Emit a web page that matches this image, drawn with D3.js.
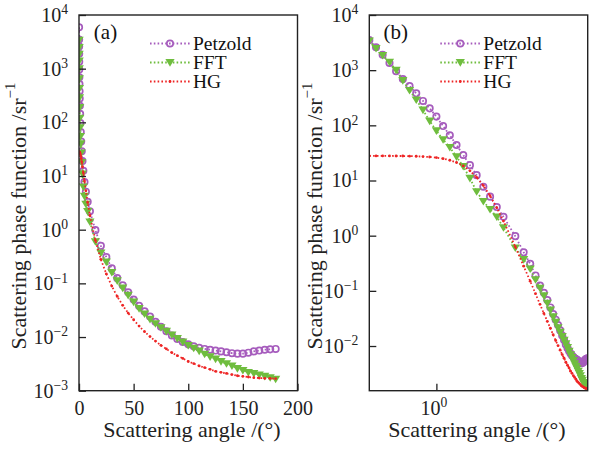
<!DOCTYPE html>
<html>
<head>
<meta charset="utf-8">
<script src="https://cdn.jsdelivr.net/npm/d3@7"></script>
<style>
  body { margin: 0; background: #fff; }
  svg { display: block; }
</style>
</head>
<body>
<div id="chart"></div>
<script>
// scattering angles (deg) shared by FFT and HG, Petzold has one extra point near 0
const angles = [0.1, 0.126, 0.158, 0.2, 0.251, 0.316, 0.398, 0.501, 0.631, 0.794,
  1, 1.259, 1.585, 1.995, 2.512, 3.162, 3.981, 5.012, 6.31, 7.943, 10,
  15, 20, 25, 30, 35, 40, 45, 50, 55, 60, 65, 70, 75, 80, 85, 90,
  95, 100, 105, 110, 115, 120, 125, 130, 135, 140, 145, 150, 155, 160, 165, 170, 175, 180];
const petzoldAngles = [0.063, 0.1, 0.126, 0.158, 0.2, 0.251, 0.316, 0.398, 0.501, 0.631, 0.794,
  1, 1.259, 1.585, 1.995, 2.512, 3.162, 3.981, 5.012, 6.31, 7.943, 10,
  15, 20, 25, 30, 35, 40, 45, 50, 55, 60, 65, 70, 75, 80, 85, 90,
  95, 100, 105, 110, 115, 120, 125, 130, 135, 140, 145, 150, 155, 160, 165, 170, 175, 180];
const petzold = [5900, 3500, 2600, 1900, 1350, 960, 690, 516, 380, 277, 203,
  144, 97, 66, 44, 29, 19, 12.5, 7.7, 5.1, 3.3, 2.2,
  0.98, 0.50, 0.31, 0.19, 0.125, 0.092, 0.068, 0.050, 0.038, 0.030, 0.024, 0.0192, 0.0155, 0.0128, 0.0107, 0.0092,
  0.0081, 0.0073, 0.0067, 0.0063, 0.0060, 0.0058, 0.0056, 0.0054, 0.0052, 0.0050, 0.0049, 0.0049, 0.0051, 0.0054, 0.0056, 0.0058, 0.0059, 0.0060];
const fft = [3400, 2480, 1860, 1400, 1000, 650, 430, 290, 190, 120,
  80, 55, 40, 27, 18, 11, 6.3, 4.2, 3.0, 2.2, 1.4,
  0.60, 0.37, 0.25, 0.160, 0.112, 0.082, 0.060, 0.045, 0.034, 0.027, 0.0215, 0.0178, 0.0150, 0.0128, 0.0110, 0.0094,
  0.0081, 0.0070, 0.0062, 0.0055, 0.0048, 0.0043, 0.0039, 0.0035, 0.0032, 0.0029, 0.0026, 0.0024, 0.0022, 0.0021, 0.00198, 0.00186, 0.00175, 0.00165];
const hg = [27.9, 27.9, 27.9, 27.9, 27.8, 27.8, 27.6, 27.5, 27.1, 26.7,
  26.0, 24.9, 23.3, 21.2, 18.4, 15.0, 11.4, 8.1, 5.3, 3.2, 1.84,
  0.63, 0.28, 0.15, 0.089, 0.057, 0.039, 0.028, 0.021, 0.016, 0.0126, 0.0102, 0.0084, 0.0070, 0.0060, 0.0051, 0.0045,
  0.0040, 0.0035, 0.0032, 0.0029, 0.0027, 0.0025, 0.0023, 0.0022, 0.0021, 0.0020, 0.0019, 0.00185, 0.0018, 0.00175, 0.00172, 0.0017, 0.00169, 0.00168];
const seriesNames = ["Petzold", "FFT", "HG"];
const yExpA = [4, 3, 2, 1, 0, -1, -2, -3];
const yExpB = [4, 3, 2, 1, 0, -1, -2];
const xTicksA = [0, 50, 100, 150, 200];
const xExpB = [0];

const W = 589, H = 449;
const FONT = "'Liberation Serif', 'DejaVu Serif', serif";
const COL = {Petzold: "#a65cbd", FFT: "#6fbd3e", HG: "#ee2525"};
const sup = s => String(s).replace("-", "\u2212");

const svg = d3.select("#chart").append("svg")
  .attr("width", W).attr("height", H)
  .attr("viewBox", [0, 0, W, H])
  .attr("font-family", FONT);

const series = [
  {name: "Petzold", data: petzoldAngles.map((a, i) => ({a, v: petzold[i]}))},
  {name: "FFT", data: angles.map((a, i) => ({a, v: fft[i]}))},
  {name: "HG", data: angles.map((a, i) => ({a, v: hg[i]}))}
];

function marker(g, name) {
  if (name === "Petzold") {
    g.append("circle").attr("r", 3.2).attr("fill", "none")
      .attr("stroke", COL.Petzold).attr("stroke-width", 1.7);
  } else if (name === "FFT") {
    g.append("path").attr("d", "M-4.6,-3.4L4.6,-3.4L0,4.2Z").attr("fill", COL.FFT);
  } else {
    g.append("circle").attr("r", 1.4).attr("fill", COL.HG);
  }
}

function panel(opt) {
  const {id, left, right, x, y, yExp, xTickVals, xFmt, tag, ylabelX, xlabelX} = opt;
  const top = 15, bottom = 390.7;
  const g = svg.append("g").attr("id", id);

  g.append("clipPath").attr("id", `clip-${id}`)
    .append("rect").attr("x", left).attr("y", top)
    .attr("width", right - left).attr("height", bottom - top);

  const plot = g.append("g").attr("clip-path", `url(#clip-${id})`);
  const line = d3.line().x(d => x(d.a)).y(d => y(d.v));

  series.forEach(s => {
    const sg = plot.append("g");
    sg.append("path").datum(s.data)
      .attr("fill", "none")
      .attr("stroke", COL[s.name])
      .attr("stroke-width", 1.8)
      .attr("stroke-dasharray", "1.6,2.2")
      .attr("d", line);
    sg.selectAll("g.m").data(s.data).join("g")
      .attr("class", "m")
      .attr("transform", d => `translate(${x(d.a)},${y(d.v)})`)
      .each(function() { marker(d3.select(this), s.name); });
  });

  // y axis
  g.append("g")
    .attr("transform", `translate(${left},0)`)
    .call(d3.axisLeft(y).tickValues(yExp.map(e => Math.pow(10, e)))
      .tickSizeInner(-7).tickSizeOuter(0).tickPadding(11).tickFormat(() => ""))
    .attr("font-family", FONT).attr("font-size", 20)
    .call(a => a.select(".domain").remove())
    .call(a => a.selectAll(".tick line").attr("stroke", "#222").attr("stroke-width", 1.3))
    .call(a => a.selectAll(".tick text")
      .attr("fill", "#222")
      .each(function(d) {
        const t = d3.select(this);
        t.append("tspan").text("10");
        t.append("tspan").attr("dy", "-0.55em").attr("font-size", "0.68em")
          .text(sup(Math.round(Math.log10(d))));
      }));

  // x axis
  g.append("g")
    .attr("transform", `translate(0,${bottom})`)
    .call(d3.axisBottom(x).tickValues(xTickVals)
      .tickSizeInner(-7).tickSizeOuter(0).tickPadding(10).tickFormat(() => ""))
    .attr("font-family", FONT).attr("font-size", 20)
    .call(a => a.select(".domain").remove())
    .call(a => a.selectAll(".tick line").attr("stroke", "#222").attr("stroke-width", 1.3))
    .call(a => a.selectAll(".tick text")
      .attr("fill", "#222")
      .each(function(d) { xFmt(d3.select(this), d); }));

  // frame
  g.append("rect")
    .attr("x", left).attr("y", top)
    .attr("width", right - left).attr("height", bottom - top)
    .attr("fill", "none").attr("stroke", "#222").attr("stroke-width", 1.4);

  g.append("text")
    .attr("x", left + 26.5).attr("y", 38.5)
    .attr("text-anchor", "middle").attr("font-size", 21).attr("fill", "#111")
    .text(tag);

  // legend
  const leg = g.append("g").attr("transform", `translate(${left + 71},0)`);
  seriesNames.forEach((n, i) => {
    const ly = 43.5 + i * 19;
    leg.append("line")
      .attr("x1", 0).attr("x2", 40).attr("y1", ly).attr("y2", ly)
      .attr("stroke", COL[n]).attr("stroke-width", 1.8)
      .attr("stroke-dasharray", "1.6,2.2");
    const m = leg.append("g").attr("transform", `translate(20,${ly})`);
    marker(m, n);
    leg.append("text")
      .attr("x", 43).attr("y", ly)
      .attr("dominant-baseline", "central")
      .attr("font-size", 19.5).attr("fill", "#111")
      .text(n);
  });

  // axis titles
  g.append("text")
    .attr("x", xlabelX).attr("y", 437)
    .attr("text-anchor", "middle").attr("font-size", 22).attr("fill", "#222")
    .text("Scattering angle /(°)");

  const yl = g.append("text")
    .attr("transform", `translate(${ylabelX},${216}) rotate(-90)`)
    .attr("text-anchor", "middle").attr("dominant-baseline", "central")
    .attr("font-size", 22).attr("fill", "#222");
  yl.append("tspan").text("Scattering phase function /sr");
  yl.append("tspan").attr("dy", "-0.5em").attr("font-size", "0.68em").text("\u22121");
}

// panel (a): linear angle axis
const xA = d3.scaleLinear().domain([0, 200]).range([79, 297.5]);
const yA = d3.scaleLog().domain([1e-3, 1e4]).range([390.7, 15]);
panel({id: "pa", left: 79, right: 297.5, x: xA, y: yA, yExp: yExpA, xTickVals: xTicksA,
  xFmt: (t, d) => t.text(d), tag: "(a)", ylabelX: 17.5, xlabelX: 192});

// panel (b): log angle axis
const xB = d3.scaleLog().domain([0.1, 180]).range([369.3, 587.7]);
const yB = d3.scaleLog().domain([Math.pow(10, -2.81), 1e4]).range([390.7, 15]);
panel({id: "pb", left: 369.3, right: 587.7, x: xB, y: yB, yExp: yExpB,
  xTickVals: xExpB.map(e => Math.pow(10, e)),
  xFmt: (t, d) => {
    t.attr("dx", -3);
    t.append("tspan").text("10");
    t.append("tspan").attr("dy", "-0.55em").attr("font-size", "0.68em").text(sup(Math.round(Math.log10(d))));
  }, tag: "(b)", ylabelX: 314, xlabelX: 477});
</script>
</body>
</html>
